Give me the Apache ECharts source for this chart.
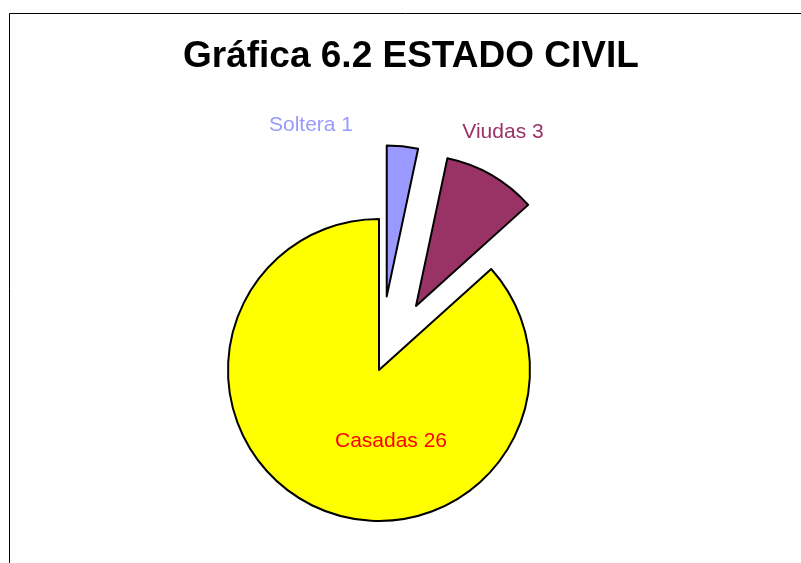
<!DOCTYPE html>
<html>
<head>
<meta charset="utf-8">
<script src="https://cdn.jsdelivr.net/npm/echarts@6/dist/echarts.min.js"></script>
<style>
html,body{margin:0;padding:0;background:#fff;}
#chart{width:801px;height:563px;}
</style>
</head>
<body>
<div id="chart"></div>
<script>
// ---- data ----
const titleText = 'Gráfica 6.2 ESTADO CIVIL';
const categories = ['Soltera', 'Viudas', 'Casadas'];
const values = [1, 3, 26];
const sliceColors = ['#9999FF', '#993366', '#FFFF00'];
const labelColors = ['#9999FF', '#993366', '#FF0000'];
const exploded = [true, true, false];

// label anchor points (layout, not data)
const labelPos = [[311, 125], [503, 132], [391, 441]];

const chart = echarts.init(document.getElementById('chart'), null, {renderer: 'canvas'});
const FONT = '"Liberation Sans", Arial, sans-serif';

const labelGraphics = categories.map((c, i) => ({
  type: 'text',
  x: labelPos[i][0],
  y: labelPos[i][1],
  z: 100,
  silent: true,
  style: {
    text: c + ' ' + values[i],
    fill: labelColors[i],
    font: '21px ' + FONT,
    align: 'center',
    verticalAlign: 'middle'
  }
}));

const option = {
  backgroundColor: '#ffffff',
  animation: false,
  title: {
    text: titleText,
    left: 183,
    top: 38,
    padding: 0,
    textStyle: {fontFamily: FONT, fontSize: 37, fontWeight: 'bold', color: '#000'}
  },
  graphic: [{
    type: 'rect',
    shape: {x: 9.5, y: 13.5, width: 900, height: 700},
    style: {fill: 'none', stroke: '#000', lineWidth: 1},
    silent: true,
    z: -10
  }].concat(labelGraphics),
  series: [{
    type: 'pie',
    center: [379, 370],
    radius: [0, 151],
    startAngle: 90,
    clockwise: true,
    selectedMode: 'multiple',
    selectedOffset: 74,
    emphasis: {disabled: true},
    label: {show: false},
    labelLine: {show: false},
    data: categories.map((c, i) => ({
      name: c,
      value: values[i],
      selected: exploded[i],
      itemStyle: {color: sliceColors[i], borderColor: '#000', borderWidth: 2}
    }))
  }]
};
chart.setOption(option);
</script>
</body>
</html>
